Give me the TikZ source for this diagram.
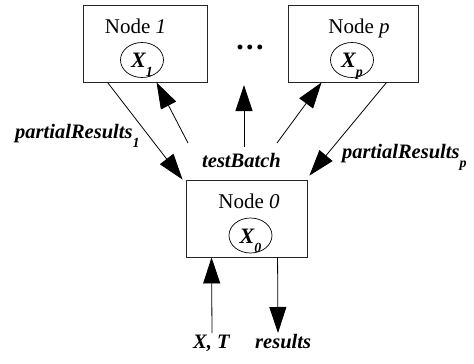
\documentclass[tikz,border=0pt]{standalone}
\usepackage{fontspec}
\setmainfont{Liberation Serif}
\usetikzlibrary{arrows.meta,calc,shapes.geometric}
\begin{document}
\begin{tikzpicture}[x=1pt,y=-1pt,
  box/.style={draw=black!85, line width=0.9pt, rectangle, inner sep=0pt, minimum height=77pt},
  var/.style={draw, ellipse, line width=0.7pt, inner sep=0pt,
    minimum width=43pt, minimum height=35pt, text height=15pt, text depth=0pt,
    font=\fontsize{22}{22}\selectfont\bfseries\itshape},
  title/.style={font=\fontsize{21}{21}\selectfont, inner sep=0pt, anchor=base},
  lbl/.style={font=\fontsize{20.5}{21}\selectfont\bfseries\itshape, inner sep=0pt, anchor=base west},
  flow/.style={line width=0.8pt, -{Triangle[length=26pt,width=17pt]}},
]
\useasboundingbox (0,0) rectangle (474,364);

% processing nodes
\node[box, minimum width=124pt] (n1) at (145,43.5) {};
\node[box, minimum width=130pt] (np) at (353,43.5) {};
\node[box, minimum width=121pt] (n0) at (246.5,218.5) {};

\node[title] (t1) at (135.5,33) {Node \textit{1}};
\node[title] (tp) at (359,33) {Node \textit{p}};
\node[title] (t0) at (249,208) {Node \textit{0}};

\newcommand{\lowsub}[1]{\raisebox{-9pt}{\fontsize{14}{14}\selectfont #1}}
\node[var] (x1) at (142,60) {X\lowsub{1}};
\node[var] (xp) at (352,60) {X\lowsub{p}};
\node[var] (x0) at (250.5,235.5) {X\lowsub{0}};

\node[font=\fontsize{30}{30}\selectfont\bfseries, inner sep=0pt] (dots) at (250,47) {.\hspace{2.5pt}.\hspace{2.5pt}.};

% labels
\node[lbl] (lr1) at (15,138) {partialResults\lowsub{1}};
\node[lbl] (ltb) at (202,167) {testBatch};
\node[lbl] (lrp) at (342,158) {partialResults\lowsub{p}};
\node[lbl] (lxt) at (193,348) {X, T};
\node[lbl] (lres) at (255,348) {results};

% free ends of the connectors
\coordinate (s2) at (188,143);
\coordinate (s3) at (244,147);
\coordinate (e3) at (244,85);
\coordinate (s4) at (277,143);
\coordinate (s6) at (212,333);
\coordinate (e7) at (278,333);

% connectors
\draw[flow] ($(n1.south west)+(25,0)$) -- ($(n0.north west)+(-3,0)$);
\draw[flow] (s2) -- ($(n1.south west)+(74,0)$);
\draw[flow] (s3) -- (e3);
\draw[flow] (s4) -- ($(np.south west)+(34,0)$);
\draw[flow] ($(np.south west)+(99,0)$) -- ($(n0.north east)+(2,-4)$);
\draw[flow] (s6) -- ($(n0.south west)+(26,0)$);
\draw[flow] ($(n0.south west)+(92,0)$) -- (e7);
\end{tikzpicture}
\end{document}
